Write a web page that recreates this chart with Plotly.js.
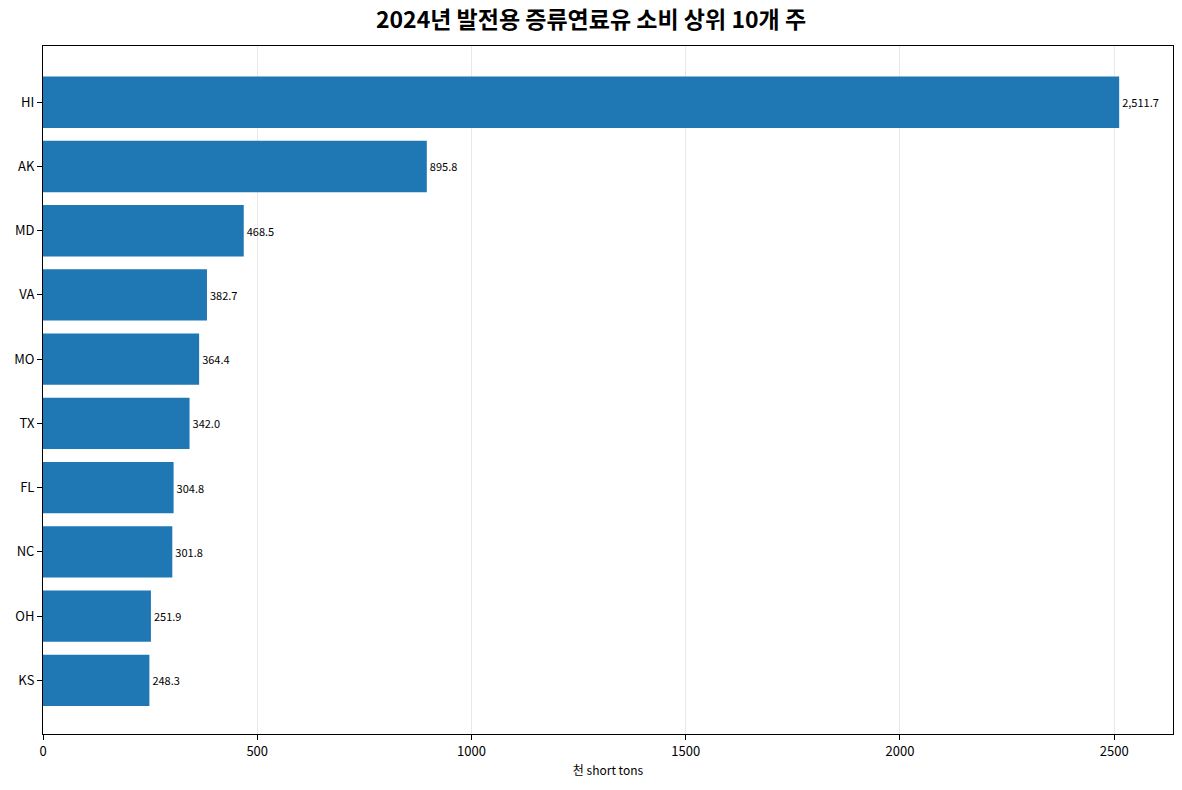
<!DOCTYPE html>
<html>
<head>
<meta charset="utf-8">
<script src="https://cdn.plot.ly/plotly-3.0.1.min.js"></script>
<style>
  html, body { margin: 0; padding: 0; background: #fff; }
  #chart { width: 1182px; height: 790px; }
</style>
</head>
<body>
<div id="chart"></div>
<script>
  // 2024 top-10 states, distillate fuel oil consumption for power (thousand short tons)
  const states = ["HI", "AK", "MD", "VA", "MO", "TX", "FL", "NC", "OH", "KS"];
  const values = [2511.7, 895.8, 468.5, 382.7, 364.4, 342.0, 304.8, 301.8, 251.9, 248.3];

  const FONT = "'Noto Sans CJK KR', 'Noto Sans', 'DejaVu Sans', sans-serif";
  const fmt = v => v.toLocaleString("en-US", { minimumFractionDigits: 1, maximumFractionDigits: 1 });

  // plotly draws categories bottom-up, so reverse to put HI on top
  const yCats = states.slice().reverse();
  const xVals = values.slice().reverse();

  const trace = {
    type: "bar",
    orientation: "h",
    x: xVals,
    y: yCats,
    width: 0.8,
    marker: { color: "#1f77b4" },
    text: xVals.map(fmt),
    textposition: "outside",
    textfont: { size: 11, color: "#000", family: FONT },
    cliponaxis: false,
    hoverinfo: "x+y",
  };

  Plotly.newPlot("chart", [trace], {
    width: 1182,
    height: 790,
    paper_bgcolor: "#fff",
    plot_bgcolor: "#fff",
    font: { family: FONT, color: "#000", size: 12 },
    margin: { l: 43, r: 9, t: 46, b: 56 },
    showlegend: false,
    title: {
      text: "<b>2024년 발전용 증류연료유 소비 상위 10개 주</b>",
      x: 0.5, xanchor: "center",
      y: 0.975, yanchor: "middle",
      font: { size: 23, family: FONT },
    },
    xaxis: {
      range: [0, 2637.3],
      tickvals: [0, 500, 1000, 1500, 2000, 2500],
      ticktext: ["0", "500", "1000", "1500", "2000", "2500"],
      ticks: "outside", ticklen: 5, tickcolor: "#000",
      showgrid: true, gridcolor: "#e8e8e8", gridwidth: 1,
      showline: true, linecolor: "#000", linewidth: 1, mirror: true,
      zeroline: false,
      tickfont: { size: 13 },
      title: { text: "천 short tons", font: { size: 12 }, standoff: 8 },
    },
    yaxis: {
      type: "category",
      range: [-0.835, 9.875],
      ticks: "outside", ticklen: 5, tickcolor: "#000",
      showgrid: false,
      showline: true, linecolor: "#000", linewidth: 1, mirror: true,
      tickfont: { size: 13 },
    },
  }, { displayModeBar: false, staticPlot: true });
</script>
</body>
</html>
